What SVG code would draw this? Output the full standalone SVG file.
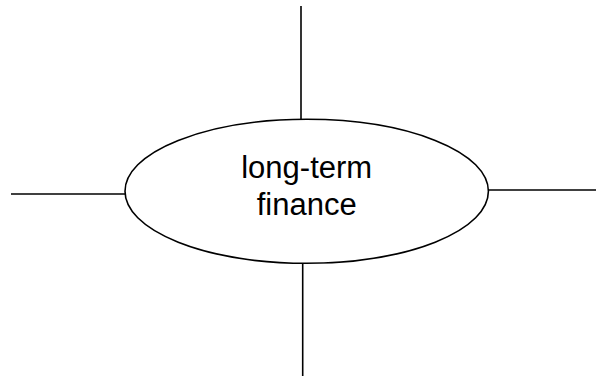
<svg xmlns="http://www.w3.org/2000/svg" width="597" height="378" viewBox="0 0 597 378">
<style>
.ln{stroke:#000;stroke-width:1.6;fill:none}
.lbl{font-family:"Liberation Sans",Arial,sans-serif;font-size:31px;fill:#000;text-anchor:middle}
</style>
<rect width="597" height="378" fill="#fff"/>
<g id="connectors">
<line class="ln" x1="301" y1="6" x2="301" y2="119.5"/>
<line class="ln" x1="302.7" y1="263" x2="302.7" y2="376"/>
<line class="ln" x1="11" y1="194" x2="125" y2="194"/>
<line class="ln" x1="488" y1="190" x2="596" y2="190"/>
</g>
<g id="node-longterm-finance">
<ellipse class="ln" cx="306.7" cy="191.3" rx="181.7" ry="72"/>
<text class="lbl" x="306.7" y="177.7">long-term</text>
<text class="lbl" x="306.7" y="215">finance</text>
</g>
</svg>
